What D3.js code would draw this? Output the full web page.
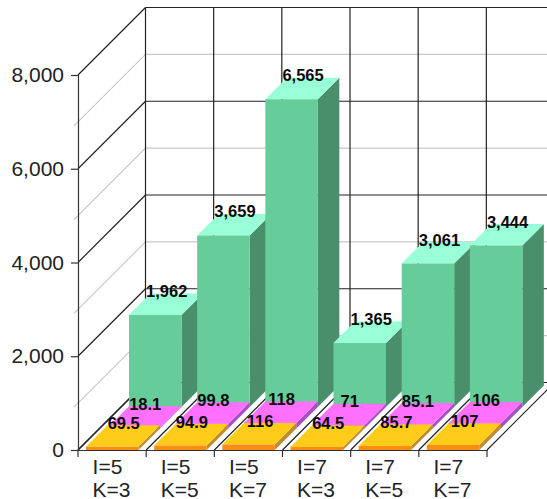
<!DOCTYPE html>
<html>
<head>
<meta charset="utf-8">
<script src="https://cdn.jsdelivr.net/npm/d3@7/dist/d3.min.js"></script>
<style>
html, body { margin: 0; padding: 0; background: #fff; }
svg { display: block; }
text { font-family: "Liberation Sans", Arial, sans-serif; }
</style>
</head>
<body>
<svg id="chart" width="547" height="499"></svg>
<script>
// Category labels, split over two lines below each group
const iLabels = ["I=5", "I=5", "I=5", "I=7", "I=7", "I=7"];
const kLabels = ["K=3", "K=5", "K=7", "K=3", "K=5", "K=7"];

// Rows of the 3D chart, from the front of the floor to the back
const frontRow = [69.5, 94.9, 116, 64.5, 85.7, 107];
const middleRow = [18.1, 99.8, 118, 71, 85.1, 106];
const backRow = [1962, 3659, 6565, 1365, 3061, 3444];

const yTicks = [0, 2000, 4000, 6000, 8000];
const yMinorTicks = [1000, 3000, 5000, 7000];

const rows = [
  { values: backRow, z: 2, front: "#66cc99", top: "#99ffd6", side: "#4a8f6b" },
  { values: middleRow, z: 1, front: "#cc59cc", top: "#ff70ff", side: "#a650c4" },
  { values: frontRow, z: 0, front: "#ff8c14", top: "#ffcc1a", side: "#bf8a30" }
];

const svg = d3.select("#chart");
const categories = d3.range(iLabels.length);

// Front plane scales; depth shifts a point right and up by the same amount
const x = d3.scaleBand().domain(categories).range([78, 487]).paddingInner(0).paddingOuter(0);
const y = d3.scaleLinear().domain([0, 8000]).range([450, 75]);
const depth = d3.scaleLinear().domain([0, 3]).range([0, 64.5]);
const barWidth = 52.5;
const barInset = 8;
const rowDepth = 21.5;

const P = (px, py, d) => [px + d, py - d];
const line = (a, b) => `M${a[0]},${a[1]}L${b[0]},${b[1]}`;
const poly = pts => "M" + pts.map(p => p.join(",")).join("L") + "Z";
const fullDepth = 67.5;
const xEnd = x.range()[1];

// Walls and gridlines
const grid = svg.append("g").attr("fill", "none");
yMinorTicks.forEach(v => {
  const yy = y(v);
  grid.append("path").attr("stroke", "#c8c8c8").attr("stroke-width", 1.2)
    .attr("d", line([74, yy + 4], P(78, yy, fullDepth)) + line(P(78, yy, fullDepth), P(xEnd, yy, fullDepth)));
});
categories.concat([categories.length]).forEach(i => {
  const xx = i < categories.length ? x(i) : xEnd;
  grid.append("path").attr("stroke", "#222").attr("stroke-width", 1.2)
    .attr("d", line(P(xx, y(8000), fullDepth), P(xx, y(0), fullDepth)) + line(P(xx, y(0), fullDepth), [xx, y(0)]));
});
yTicks.forEach(v => {
  const yy = y(v);
  grid.append("path").attr("stroke", "#222").attr("stroke-width", 1.2)
    .attr("d", line([78, yy], P(78, yy, fullDepth)) + line(P(78, yy, fullDepth), P(xEnd, yy, fullDepth)));
});

// Bars, painted from the back row forward and left to right
const bars = svg.append("g");
rows.forEach(row => {
  const d0 = depth(row.z);
  row.values.forEach((v, i) => {
    const l = x(i) + barInset;
    const r = l + barWidth;
    const b = y(0);
    const t = y(v);
    bars.append("path").attr("fill", row.side)
      .attr("d", poly([P(r, b, d0), P(r, t, d0), P(r, t, d0 + rowDepth), P(r, b, d0 + rowDepth)]));
    bars.append("path").attr("fill", row.top)
      .attr("d", poly([P(l, t, d0), P(r, t, d0), P(r, t, d0 + rowDepth), P(l, t, d0 + rowDepth)]));
    bars.append("path").attr("fill", row.front)
      .attr("d", poly([P(l, b, d0), P(r, b, d0), P(r, t, d0), P(l, t, d0)]));
  });
});

// Value labels sit above the top face of each bar
const labels = svg.append("g").attr("font-size", 16.5).attr("font-weight", "bold")
  .attr("fill", "#0a0a0a").attr("text-anchor", "middle");
const fmt = d3.format(",");
rows.forEach(row => {
  const d0 = depth(row.z);
  row.values.forEach((v, i) => {
    const p = P(x(i) + barInset + barWidth / 2, y(v), d0);
    labels.append("text").attr("x", p[0] + 11.5).attr("y", p[1] - 18).text(fmt(v));
  });
});

// Axes on the front plane
const axisY = d3.axisLeft(y).tickValues(yTicks).tickSize(7).tickPadding(7).tickFormat(fmt);
const gy = svg.append("g").attr("transform", "translate(78,0)").call(axisY);
gy.selectAll("text").attr("font-size", 21).attr("fill", "#222").attr("font-family", '"Liberation Sans", Arial, sans-serif');
gy.selectAll("line,path").attr("stroke", "#333").attr("stroke-width", 1.2);

const axisX = d3.axisBottom(x).tickValues([]).tickSize(0);
const gx = svg.append("g").attr("transform", `translate(0,${y(0)})`).call(axisX);
gx.attr("font-family", '"Liberation Sans", Arial, sans-serif').attr("text-anchor", "start");
gx.select("path").attr("stroke", "#333").attr("stroke-width", 1.2);
categories.concat([categories.length]).forEach(i => {
  const xx = i < categories.length ? x(i) : xEnd;
  gx.append("line").attr("x1", xx).attr("x2", xx).attr("y1", 0).attr("y2", 7).attr("stroke", "#333").attr("stroke-width", 1.2);
});
categories.forEach(i => {
  const left = x(i) + x.bandwidth() / 2 - 19.5;
  gx.append("text").attr("x", left).attr("y", 24).attr("font-size", 21).attr("fill", "#222").text(iLabels[i]);
  gx.append("text").attr("x", left).attr("y", 46.5).attr("font-size", 21).attr("fill", "#222").text(kLabels[i]);
});
</script>
</body>
</html>
